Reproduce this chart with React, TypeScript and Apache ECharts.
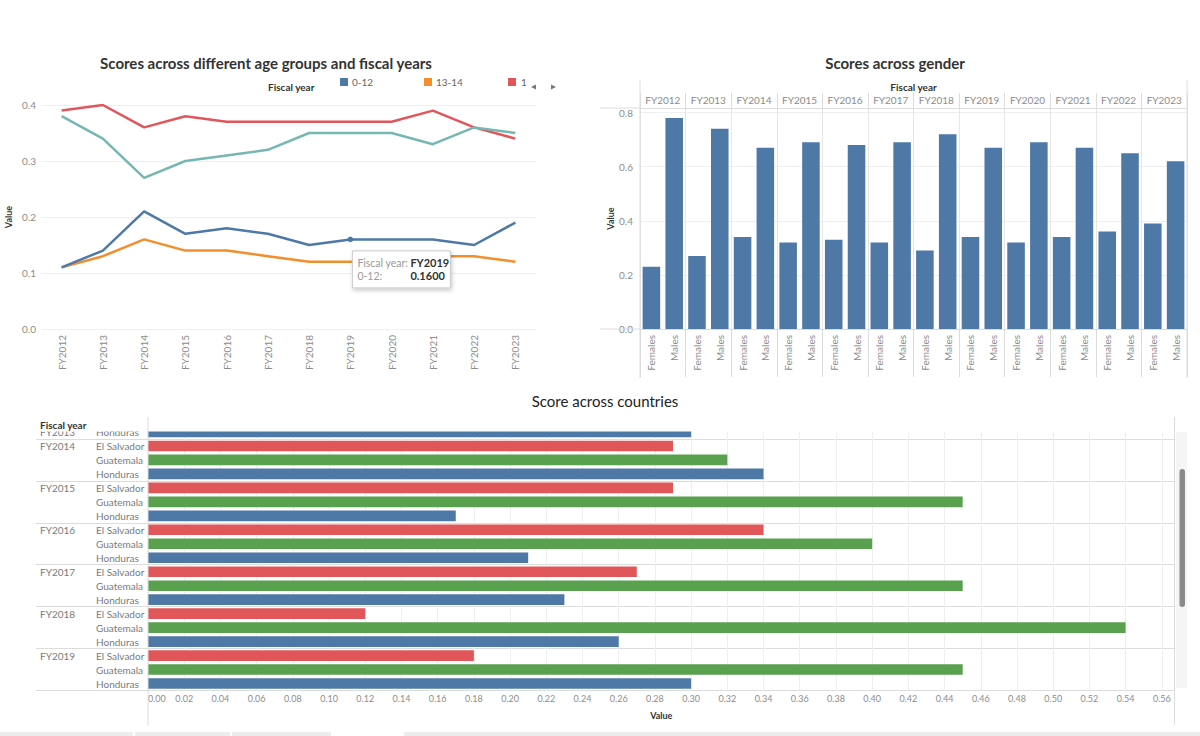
import React, { useEffect, useRef } from 'react';
import * as echarts from 'echarts';

// ---------- data ----------
const fiscalYears = ['FY2012', 'FY2013', 'FY2014', 'FY2015', 'FY2016', 'FY2017', 'FY2018', 'FY2019', 'FY2020', 'FY2021', 'FY2022', 'FY2023'];

const ageGroups = ['0-12', '13-14', '15-17', '18+'];
const age0to12 = [0.11, 0.14, 0.21, 0.17, 0.18, 0.17, 0.15, 0.16, 0.16, 0.16, 0.15, 0.19];
const age13to14 = [0.11, 0.13, 0.16, 0.14, 0.14, 0.13, 0.12, 0.12, 0.12, 0.13, 0.13, 0.12];
const age15to17 = [0.39, 0.40, 0.36, 0.38, 0.37, 0.37, 0.37, 0.37, 0.37, 0.39, 0.36, 0.34];
const age18plus = [0.38, 0.34, 0.27, 0.30, 0.31, 0.32, 0.35, 0.35, 0.35, 0.33, 0.36, 0.35];
const ageColors = ['#4e79a7', '#f28e2b', '#e15759', '#76b7b2'];

const genders = ['Females', 'Males'];
const femaleScores = [0.23, 0.27, 0.34, 0.32, 0.33, 0.32, 0.29, 0.34, 0.32, 0.34, 0.36, 0.39];
const maleScores = [0.78, 0.74, 0.67, 0.69, 0.68, 0.69, 0.72, 0.67, 0.69, 0.67, 0.65, 0.62];

const countryYears = ['FY2013', 'FY2014', 'FY2015', 'FY2016', 'FY2017', 'FY2018', 'FY2019'];
const countries = ['El Salvador', 'Guatemala', 'Honduras'];
// FY2013 El Salvador / Guatemala are scrolled out of view in the reference
const elSalvadorScores = [null, 0.29, 0.29, 0.34, 0.27, 0.12, 0.18];
const guatemalaScores = [null, 0.32, 0.45, 0.40, 0.45, 0.54, 0.45];
const hondurasScores = [0.30, 0.34, 0.17, 0.21, 0.23, 0.26, 0.30];
const countryColors = ['#e15759', '#59a14f', '#4e79a7'];

const FONT = 'Lato, "Noto Sans", sans-serif';
const LABEL = '#8c8c8c';
const DARK = '#333333';
const GRID = '#efefef';
const BORDER = '#dcdcdc';

export default function App() {
  const ref = useRef<HTMLDivElement>(null);

  useEffect(() => {
    const chart = echarts.init(ref.current as HTMLDivElement, null, { renderer: 'svg' });

    // gender categories
    const genderKeys: string[] = [];
    const genderValues: number[] = [];
    fiscalYears.forEach((fy, i) => {
      genders.forEach((g) => {
        genderKeys.push(fy + ' ' + g);
        genderValues.push(g === 'Females' ? femaleScores[i] : maleScores[i]);
      });
    });

    // country rows
    const countryArrays = [elSalvadorScores, guatemalaScores, hondurasScores];
    const rowKeys: string[] = [];
    const groupStart: boolean[] = [];
    const seriesData: any[][] = [[], [], []];
    countryYears.forEach((fy, yi) => {
      let first = true;
      countries.forEach((c, ci) => {
        const v = countryArrays[ci][yi];
        if (v == null) return;
        rowKeys.push(fy + '|' + c);
        groupStart.push(first);
        first = false;
        for (let k = 0; k < 3; k++) seriesData[k].push(k === ci ? v : '-');
      });
    });

    const option: any = {
      animation: false,
      backgroundColor: '#ffffff',
      textStyle: { fontFamily: FONT },
      grid: [
        { left: 41, right: 664, top: 105, bottom: 407 },
        { left: 640, right: 13, top: 108, bottom: 407 },
        { left: 148, right: 25.5, top: 425, bottom: 45.5 },
      ],
      xAxis: [
        {
          gridIndex: 0, type: 'category', data: fiscalYears, boundaryGap: true,
          axisLine: { show: false }, axisTick: { show: false },
          axisLabel: { rotate: 90, color: LABEL, fontSize: 10, margin: 6, interval: 0 },
        },
        {
          gridIndex: 1, type: 'category', data: genderKeys, position: 'bottom',
          axisLine: { lineStyle: { color: BORDER } },
          axisTick: { show: true, length: 48, interval: (i: number) => i % 2 === 0, lineStyle: { color: BORDER } },
          axisLabel: { rotate: 90, color: LABEL, fontSize: 10, margin: 6, interval: 0, formatter: (v: string) => v.split(' ')[1] },
        },
        {
          gridIndex: 1, type: 'category', data: fiscalYears, position: 'top',
          axisLine: { lineStyle: { color: BORDER } },
          axisTick: { show: true, length: 15, interval: 0, lineStyle: { color: BORDER } },
          axisLabel: { color: LABEL, fontSize: 10, margin: 3, interval: 0 },
          splitLine: { show: true, interval: 0, lineStyle: { color: '#e6e6e6' } },
          name: 'Fiscal year', nameLocation: 'middle', nameGap: 16,
          nameTextStyle: { fontSize: 10, fontWeight: 'bold', color: DARK },
        },
        {
          gridIndex: 2, type: 'value', min: 0, max: 0.567, interval: 0.02,
          axisLine: { show: false }, axisTick: { show: false },
          axisLabel: { fontSize: 9, color: LABEL, margin: 3, showMaxLabel: false, alignMinLabel: 'left', formatter: (v: number) => v.toFixed(2) },
          splitLine: { show: true, lineStyle: { color: GRID } },
          name: 'Value', nameLocation: 'middle', nameGap: 20,
          nameTextStyle: { fontSize: 9, color: DARK, fontWeight: 'bold' },
        },
      ],
      yAxis: [
        {
          gridIndex: 0, type: 'value', min: 0, max: 0.4, interval: 0.1,
          axisLine: { show: false }, axisTick: { show: false },
          axisLabel: { fontSize: 10, color: LABEL, margin: 5, formatter: (v: number) => v.toFixed(1) },
          splitLine: { lineStyle: { color: GRID } },
          name: 'Value', nameLocation: 'middle', nameGap: 28,
          nameTextStyle: { fontSize: 9, fontWeight: 'bold', color: DARK },
        },
        {
          gridIndex: 1, type: 'value', min: 0, max: 0.817, interval: 0.2,
          axisLine: { show: false }, axisTick: { show: false },
          axisLabel: { fontSize: 10, color: LABEL, margin: 7, showMaxLabel: false, formatter: (v: number) => v.toFixed(1) },
          splitLine: { lineStyle: { color: GRID } },
          name: 'Value', nameLocation: 'middle', nameGap: 23,
          nameTextStyle: { fontSize: 9, fontWeight: 'bold', color: DARK },
        },
        {
          gridIndex: 2, type: 'category', data: rowKeys, inverse: true,
          axisLine: { show: false },
          axisTick: { show: true, length: 112, interval: (i: number) => groupStart[i], lineStyle: { color: BORDER } },
          splitLine: { show: true, interval: (i: number) => groupStart[i], lineStyle: { color: BORDER } },
          axisLabel: {
            align: 'left', margin: 108, interval: 0, fontSize: 10, color: '#7a7a7a',
            formatter: (v: string, i: number) => {
              const [fy, c] = v.split('|');
              return '{y|' + (groupStart[i] ? fy : '') + '}{c|' + c + '}';
            },
            rich: {
              y: { width: 56, align: 'left', fontSize: 10, color: '#7a7a7a', fontFamily: FONT },
              c: { align: 'left', fontSize: 10, color: '#7a7a7a', fontFamily: FONT },
            },
          },
        },
      ],
      series: [
        ...[age0to12, age13to14, age15to17, age18plus].map((d, i) => ({
          type: 'line', name: ageGroups[i], xAxisIndex: 0, yAxisIndex: 0, data: d,
          showSymbol: false, lineStyle: { width: 2.5, color: ageColors[i] }, itemStyle: { color: ageColors[i] },
          z: i === 0 ? 5 : 3,
        })),
        {
          type: 'bar', name: 'Score', xAxisIndex: 1, yAxisIndex: 1, data: genderValues,
          barWidth: '77%', itemStyle: { color: '#4e79a7' },
        },
        ...countries.map((c, k) => ({
          type: 'bar', name: c, xAxisIndex: 3, yAxisIndex: 2, data: seriesData[k],
          barWidth: '76%', barGap: '-100%', itemStyle: { color: countryColors[k] },
        })),
      ],
    };

    chart.setOption(option);

    const [px, py] = chart.convertToPixel({ gridIndex: 0 }, [7, age0to12[7]]) as number[];

    const line = (x1: number, y1: number, x2: number, y2: number, color = BORDER, z = 60) => ({
      type: 'line', z, silent: true, shape: { x1, y1, x2, y2 }, style: { stroke: color, lineWidth: 1 },
    });
    const text = (x: number, y: number, t: string, style: any, z = 60) => ({
      type: 'text', x, y, z, silent: true,
      style: { text: t, fontFamily: FONT, verticalAlign: 'middle', ...style },
    });

    const graphics: any[] = [
      // titles
      text(266, 63, 'Scores across different age groups and fiscal years', { fontSize: 15, fontWeight: 'bold', fill: DARK, align: 'center' }),
      text(895, 63, 'Scores across gender', { fontSize: 15, fontWeight: 'bold', fill: DARK, align: 'center' }),
      text(605, 401, 'Score across countries', { fontSize: 15, fill: '#222', align: 'center' }),
      // legend (clipped, as in the reference)
      text(268, 87, 'Fiscal year', { fontSize: 10, fontWeight: 'bold', fill: DARK }),
      { type: 'rect', z: 60, shape: { x: 340, y: 78, width: 8, height: 8 }, style: { fill: ageColors[0] } },
      text(352, 82, ageGroups[0], { fontSize: 10, fill: '#666' }),
      { type: 'rect', z: 60, shape: { x: 424, y: 78, width: 8, height: 8 }, style: { fill: ageColors[1] } },
      text(436, 82, ageGroups[1], { fontSize: 10, fill: '#666' }),
      { type: 'rect', z: 60, shape: { x: 508, y: 78, width: 8, height: 8 }, style: { fill: ageColors[2] } },
      text(521, 82, ageGroups[2].slice(0, 1), { fontSize: 10, fill: '#666' }),
      { type: 'polygon', z: 60, shape: { points: [[531, 87], [536, 84.5], [536, 89.5]] }, style: { fill: '#777' } },
      { type: 'polygon', z: 60, shape: { points: [[556, 87], [551, 84.5], [551, 89.5]] }, style: { fill: '#777' } },
      // hover dot + tooltip
      { type: 'circle', z: 70, shape: { cx: px, cy: py, r: 2.8 }, style: { fill: ageColors[0] } },
      {
        type: 'group', x: px + 2, y: py + 11.5, z: 80,
        children: [
          { type: 'rect', z: 80, shape: { x: 0, y: 0, width: 98, height: 37 }, style: { fill: '#fff', stroke: '#c9c9c9', lineWidth: 1, shadowBlur: 4, shadowColor: 'rgba(0,0,0,0.22)', shadowOffsetX: 1, shadowOffsetY: 2 } },
          text(5, 12, 'Fiscal year:', { fontSize: 10.5, fill: '#9a9a9a' }, 81),
          text(58, 12, 'FY2019', { fontSize: 11, fontWeight: 'bold', fill: '#333' }, 81),
          text(5, 25, ageGroups[0] + ':', { fontSize: 10.5, fill: '#9a9a9a' }, 81),
          text(58, 25, age0to12[7].toFixed(4), { fontSize: 11, fontWeight: 'bold', fill: '#333' }, 81),
        ],
      },
      // top-right panel borders
      line(640, 80, 640, 378),
      line(1187, 80, 1187, 378),
      line(600, 108, 640, 108),
      line(600, 329, 640, 329),
      // bottom: scroll clip of the first row
      { type: 'rect', z: 50, silent: true, shape: { x: 30, y: 409, width: 1144, height: 22.5 }, style: { fill: '#fff' } },
      text(40, 424.5, 'Fiscal year', { fontSize: 10, fontWeight: 'bold', fill: DARK }),
      line(148, 417, 148, 725),
      line(1174.5, 417, 1174.5, 725),
      // scrollbar
      { type: 'rect', z: 60, shape: { x: 1176, y: 432, width: 11, height: 256 }, style: { fill: '#f5f5f5' } },
      { type: 'rect', z: 61, shape: { x: 1179.5, y: 469, width: 5.5, height: 138, r: 3 }, style: { fill: '#8a8a8a' } },
      // bottom tab strip
      { type: 'rect', z: 60, shape: { x: 0, y: 732, width: 133, height: 4 }, style: { fill: '#ececec' } },
      { type: 'rect', z: 60, shape: { x: 135, y: 732, width: 95, height: 4 }, style: { fill: '#ececec' } },
      { type: 'rect', z: 60, shape: { x: 232, y: 732, width: 99, height: 4 }, style: { fill: '#ececec' } },
      { type: 'rect', z: 60, shape: { x: 404, y: 732, width: 796, height: 4 }, style: { fill: '#ececec' } },
    ];

    chart.setOption({ graphic: graphics });

    return () => chart.dispose();
  }, []);

  return (
    <div
      ref={ref}
      style={{ position: 'absolute', left: 0, top: 0, width: 1200, height: 736, background: '#fff' }}
    />
  );
}
